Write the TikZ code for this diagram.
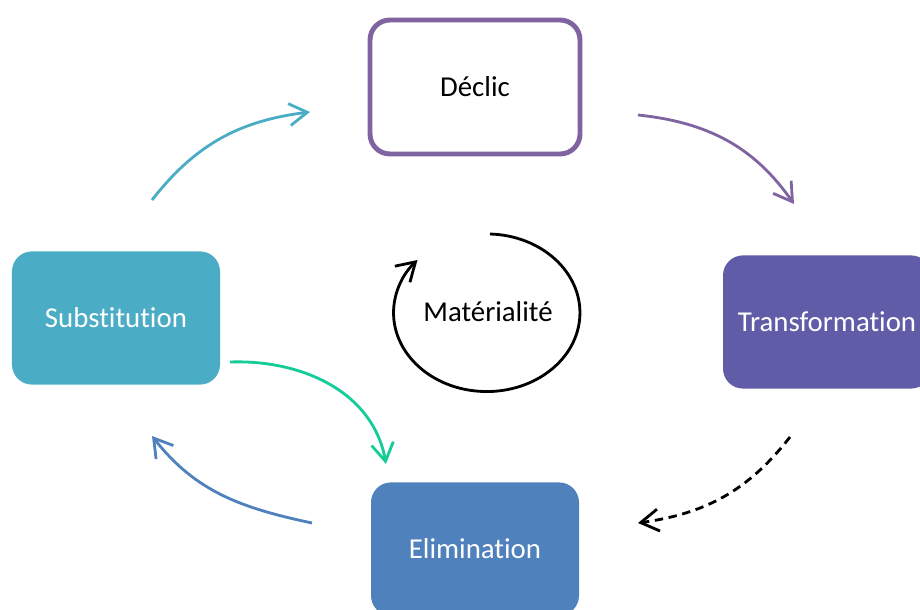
\documentclass[tikz,border=0pt]{standalone}
\usepackage{fontspec}
\setmainfont{Carlito}[Ligatures=NoCommon]
\usetikzlibrary{arrows.meta}

\definecolor{violet}{HTML}{8064A2}
\definecolor{indigo}{HTML}{605CA8}
\definecolor{turq}{HTML}{4BACC6}
\definecolor{bleu}{HTML}{4F81BD}
\definecolor{vert}{HTML}{14CC98}

\tikzset{
  box/.style={rounded corners=0.5cm, minimum width=5.2cm, minimum height=3.33cm,
    font=\fontsize{20.5}{24}\selectfont, text=white},
  flow/.style={line width=2pt, -{Straight Barb[length=0.45cm, width=0.55cm, line width=2pt]}}
}

\begin{document}
\begin{tikzpicture}
	    \useasboundingbox (0,0) rectangle (23,-15.25);
	    \clip (0,0) rectangle (23,-15.25);

	    \node [box, draw=violet, line width=3.5pt, fill=white, text=black,
	           minimum width=5.25cm, minimum height=3.35cm] (declic) at (11.875,-2.175) {Déclic};
	    \node [box, fill=indigo] (transfo) at (20.675,-8.05) {Transformation};
	    \node [box, fill=turq] (subst) at (2.9,-7.95) {Substitution};
	    \node [box, fill=bleu] (elim) at (11.875,-13.725) {Elimination};
	    \node [font=\fontsize{20.5}{24}\selectfont] (mat) at (12.2,-7.8) {Matérialité};

	    % ends of the arrows
	    \coordinate (a1) at (3.8,-5.0);   \coordinate (b1) at (7.75,-2.8);
	    \coordinate (a2) at (15.95,-2.875); \coordinate (b2) at (19.85,-5.1);
	    \coordinate (a3) at (19.75,-10.925); \coordinate (b3) at (15.95,-13.075);
	    \coordinate (a4) at (7.8,-13.075); \coordinate (b4) at (3.8,-10.9);
	    \coordinate (a5) at (5.75,-9.05);  \coordinate (b5) at (9.65,-11.6);
	    \coordinate (c) at (12.25,-5.85);

	    \draw [flow, turq] (a1) to[out=52, in=187] (b1);
	    \draw [flow, violet] (a2) to[out=-6, in=125] (b2);
	    \draw [flow, black, dashed, dash pattern=on 6pt off 4pt] (a3) to[out=232, in=8] (b3);
	    \draw [flow, bleu] (a4) to[out=168, in=-52] (b4);
	    \draw [flow, vert] (a5) to[out=2, in=100] (b5);

	    \draw [flow, black] (c) arc[start angle=88, end angle=-222, x radius=2.33cm, y radius=1.97cm];

\end{tikzpicture}
\end{document}
